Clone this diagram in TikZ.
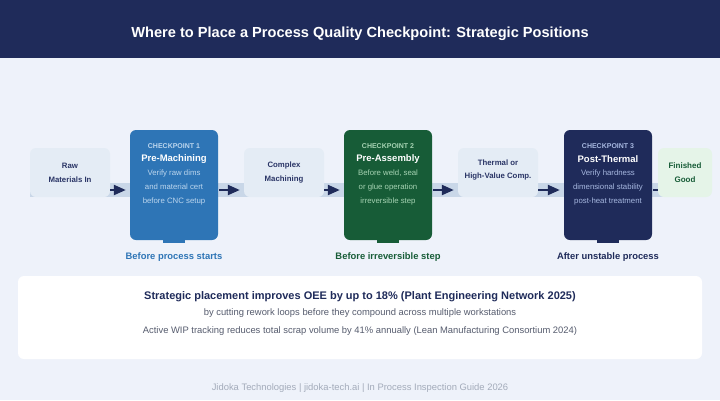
\documentclass[tikz,border=0pt]{standalone}
\usepackage{fontspec}
\setmainfont{Liberation Sans}
\usetikzlibrary{arrows.meta}

\definecolor{navy}{HTML}{1F2B5A}
\definecolor{pagebg}{HTML}{EEF2FA}
\definecolor{band}{HTML}{C9D7E8}
\definecolor{boxgray}{HTML}{E4ECF5}
\definecolor{ink}{HTML}{2A3566}
\definecolor{cpblue}{HTML}{2E75B6}
\definecolor{cpgreen}{HTML}{175C37}
\definecolor{cpnavy}{HTML}{1F2B5A}
\definecolor{ltblue}{HTML}{BCD6EE}
\definecolor{ltgreen}{HTML}{A6D3B3}
\definecolor{ltnavy}{HTML}{A7B8E0}
\definecolor{goodbg}{HTML}{E5F4E8}
\definecolor{midgray}{HTML}{565C6E}
\definecolor{footgray}{HTML}{A3ABBA}

\begin{document}
\begin{tikzpicture}[x=1pt,y=-1pt,>={Triangle[length=12pt,width=10pt]},
  stepbox/.style={fill=boxgray,rounded corners=6pt,minimum width=80pt,minimum height=49pt,
    inner sep=0pt,align=center,text=ink,font=\bfseries\fontsize{7.8}{13.8}\selectfont},
  cpbox/.style={rounded corners=6pt,minimum width=88pt,minimum height=110pt,inner sep=0pt},
  flow/.style={->,navy,line width=2.2pt}]
\useasboundingbox (0,0) rectangle (720,400);
\fill[pagebg] (0,0) rectangle (720,400);
\fill[navy] (0,0) rectangle (720,58);
\node[text=white,font=\bfseries\fontsize{14.6}{17}\selectfont] (title) at (360,34)
  {Where to Place a Process Quality Checkpoint: Strategic Positions};

% flow band behind the line
\fill[band] (30,183) rectangle (700,197);
\coordinate (mid) at (0,190);

% plain steps
\node[stepbox] (raw) at (70,172.5) {Raw\\Materials In};
\node[stepbox] (mach) at (284,172.5) {Complex\\Machining};
\node[stepbox] (therm) at (498,172.5) {};
\node[text=ink,align=center,font=\bfseries\fontsize{7.8}{13.8}\selectfont] (thermtxt)
  at (498,170) {Thermal or\\High-Value Comp.};

% checkpoints
\foreach \cx/\n/\col/\lt/\ttl/\la/\lb/\lc/\cap in {
    174/1/cpblue/ltblue/Pre-Machining/Verify raw dims/and material cert/before CNC setup/Before process starts,
    388/2/cpgreen/ltgreen/Pre-Assembly/{Before weld, seal}/or glue operation/irreversible step/Before irreversible step,
    608/3/cpnavy/ltnavy/Post-Thermal/Verify hardness/dimensional stability/post-heat treatment/After unstable process}{
  \fill[\col] (\cx-11,238) rectangle (\cx+11,242.5);
  \node[cpbox,fill=\col] (cp\n) at (\cx,185) {};
  \node[text=\lt,font=\bfseries\fontsize{7}{8}\selectfont] (cp\n tag) at (\cx,146) {CHECKPOINT \n};
  \node[text=white,font=\bfseries\fontsize{9.5}{12}\selectfont] (cp\n name) at (\cx,159) {\ttl};
  \node[text=\lt,font=\fontsize{7.8}{9}\selectfont] (cp\n a) at (\cx,173) {\la};
  \node[text=\lt,font=\fontsize{7.8}{9}\selectfont] (cp\n b) at (\cx,187) {\lb};
  \node[text=\lt,font=\fontsize{7.8}{9}\selectfont] (cp\n c) at (\cx,201) {\lc};
  \node[text=\col,font=\bfseries\fontsize{9.4}{11}\selectfont] (cp\n cap) at (\cx,257) {\cap};
}

% arrows between steps
\draw[flow] (raw.east |- mid) -- ([xshift=-4pt]cp1.west |- mid);
\draw[flow] ([xshift=1pt]cp1.east |- mid) -- ([xshift=-4pt]mach.west |- mid);
\draw[flow] (mach.east |- mid) -- ([xshift=-4pt]cp2.west |- mid);
\draw[flow] ([xshift=1pt]cp2.east |- mid) -- ([xshift=-4pt]therm.west |- mid);
\draw[flow] (therm.east |- mid) -- ([xshift=-4pt]cp3.west |- mid);
\draw[navy,line width=2.2pt] ([xshift=1pt]cp3.east |- mid) -- ++(8,0) coordinate (goodin);

\node[stepbox,fill=goodbg,text=cpgreen,minimum width=54pt,
  font=\bfseries\fontsize{8}{14}\selectfont] (good) at (685,172.5) {Finished\\Good};

% summary card
\fill[white,rounded corners=6pt] (18,276) rectangle (702,359);
\node[text=navy,font=\bfseries\fontsize{11}{13}\selectfont] (gain) at (360,297)
  {Strategic placement improves OEE by up to 18\% (Plant Engineering Network 2025)};
\node[text=midgray,font=\fontsize{9.4}{11}\selectfont] (why) at (360,313)
  {by cutting rework loops before they compound across multiple workstations};
\node[text=midgray,font=\fontsize{9.4}{11}\selectfont] (wip) at (360,331)
  {Active WIP tracking reduces total scrap volume by 41\% annually (Lean Manufacturing Consortium 2024)};

\node[text=footgray,font=\fontsize{9.4}{11}\selectfont] (foot) at (360,388)
  {Jidoka Technologies | jidoka-tech.ai | In Process Inspection Guide 2026};
\end{tikzpicture}
\end{document}
